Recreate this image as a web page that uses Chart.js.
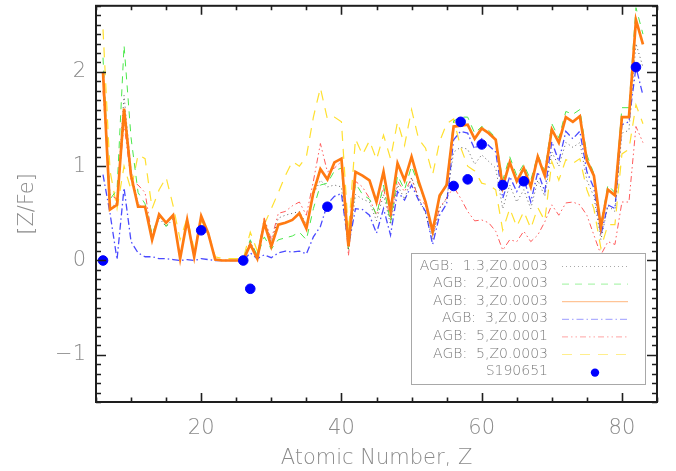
<!DOCTYPE html>
<html>
<head>
<meta charset="utf-8">
<script src="https://cdn.jsdelivr.net/npm/chart.js@4/dist/chart.umd.min.js"></script>
<style>
  html, body { margin: 0; padding: 0; background: #fff; }
  #wrap { width: 676px; height: 471px; }
</style>
</head>
<body>
<div id="wrap"><canvas id="abundChart" width="676" height="471"></canvas></div>
<script>
// atomic numbers of the model predictions (C .. Bi)
const atomicZ = [
  6, 7, 8, 9, 10,
  11, 12, 13, 14, 15, 16, 17, 18, 19, 20,
  21, 22, 23, 24, 25, 26, 27, 28, 29, 30,
  31, 32, 33, 34, 35, 36, 37, 38, 39, 40,
  41, 42, 43, 44, 45, 46, 47, 48, 49, 50,
  51, 52, 53, 54, 55, 56, 57, 58, 59, 60,
  61, 62, 63, 64, 65, 66, 67, 68, 69, 70,
  71, 72, 73, 74, 75, 76, 77, 78, 79, 80,
  81, 82, 83
];

// [Z/Fe] predictions, one array per AGB model
const agb13z0003 = [
  1.95, 0.55, 0.62, 1.75, 0.95,
  0.60, 0.55, 0.25, 0.45, 0.36, 0.44, 0.03, 0.40, 0.04, 0.44,
  0.27, 0.01, 0.00, 0.00, 0.00, 0.00, 0.20, 0.05, 0.42, 0.20,
  0.45, 0.48, 0.50, 0.52, 0.38, 0.70, 0.85, 0.78, 0.80, 0.78,
  0.12, 0.70, 0.65, 0.62, 0.42, 0.70, 0.38, 0.80, 0.65, 0.88,
  0.66, 0.50, 0.22, 0.55, 0.65, 1.15, 1.20, 1.18, 1.02, 1.12,
  1.05, 0.98, 0.55, 0.80, 0.62, 0.75, 0.55, 0.85, 0.68, 1.15,
  1.00, 1.25, 1.20, 1.25, 0.85, 0.68, 0.22, 0.58, 0.52, 1.35,
  1.38, 2.30, 2.05
];
const agb2z0003 = [
  2.15, 0.65, 0.75, 2.28, 1.30,
  0.72, 0.60, 0.28, 0.48, 0.36, 0.46, 0.03, 0.42, 0.05, 0.46,
  0.28, 0.01, 0.00, 0.00, 0.00, 0.00, 0.22, 0.05, 0.25, 0.12,
  0.22, 0.24, 0.26, 0.30, 0.22, 0.55, 0.80, 0.82, 0.95, 0.98,
  0.12, 0.82, 0.70, 0.65, 0.48, 0.80, 0.40, 0.90, 0.75, 1.00,
  0.80, 0.62, 0.28, 0.66, 0.82, 1.48, 1.52, 1.52, 1.35, 1.42,
  1.38, 1.30, 0.85, 1.10, 0.90, 1.02, 0.85, 1.12, 0.95, 1.45,
  1.30, 1.58, 1.55, 1.60, 1.12, 0.92, 0.38, 0.80, 0.72, 1.62,
  1.62, 2.68, 2.40
];
const agb3z0003 = [
  2.00, 0.54, 0.59, 1.61, 0.90,
  0.57, 0.57, 0.22, 0.49, 0.40, 0.48, 0.02, 0.43, 0.04, 0.47,
  0.29, 0.01, 0.00, 0.00, 0.00, 0.00, 0.17, 0.02, 0.40, 0.15,
  0.38, 0.40, 0.43, 0.50, 0.34, 0.72, 0.97, 0.86, 1.04, 1.08,
  0.15, 0.94, 0.90, 0.85, 0.62, 0.94, 0.52, 1.03, 0.85, 1.10,
  0.84, 0.62, 0.31, 0.69, 0.80, 1.42, 1.43, 1.44, 1.29, 1.40,
  1.35, 1.28, 0.78, 1.04, 0.84, 0.98, 0.78, 1.10, 0.90, 1.39,
  1.25, 1.52, 1.47, 1.53, 1.06, 0.90, 0.35, 0.75, 0.69, 1.52,
  1.52, 2.55, 2.29
];
const agb3z003 = [
  0.91, 0.50, 0.01, 0.77, 0.20,
  0.08, 0.04, 0.04, 0.02, 0.02, 0.01, 0.00, 0.01, 0.00, 0.02,
  0.01, 0.00, 0.00, 0.00, 0.00, 0.00, 0.08, 0.02, 0.06, 0.03,
  0.08, 0.10, 0.09, 0.10, 0.07, 0.25, 0.36, 0.60, 0.68, 0.71,
  0.15, 0.55, 0.54, 0.48, 0.29, 0.55, 0.27, 0.73, 0.64, 0.80,
  0.64, 0.52, 0.17, 0.48, 0.60, 1.28, 1.37, 1.35, 1.18, 1.29,
  1.22, 1.15, 0.66, 0.89, 0.73, 0.87, 0.62, 0.94, 0.73, 1.26,
  1.05, 1.37, 1.29, 1.37, 0.94, 0.77, 0.27, 0.59, 0.55, 1.44,
  1.47, 2.05, 1.75
];
const agb5z0001 = [
  1.80, 0.70, 0.65, 1.45, 0.85,
  0.80, 0.72, 0.25, 0.48, 0.40, 0.47, 0.03, 0.42, 0.05, 0.45,
  0.28, 0.01, 0.00, 0.00, 0.00, 0.00, 0.18, 0.04, 0.45, 0.22,
  0.50, 0.52, 0.58, 0.62, 0.48, 0.84, 1.24, 0.94, 0.98, 1.05,
  0.05, 0.84, 0.78, 0.66, 0.48, 0.77, 0.43, 0.84, 0.73, 0.87,
  0.66, 0.59, 0.27, 0.56, 0.66, 0.78, 0.66, 0.52, 0.42, 0.43,
  0.40, 0.31, 0.11, 0.22, 0.20, 0.31, 0.20, 0.27, 0.41, 0.59,
  0.48, 0.61, 0.62, 0.59, 0.48, 0.27, 0.06, 0.20, 0.17, 0.62,
  0.62, 1.42, 1.25
];
const agb5z0003 = [
  2.45, 0.95, 0.55, 1.00, 0.75,
  1.12, 1.08, 0.55, 0.75, 0.88, 0.58, 0.22, 0.45, 0.12, 0.42,
  0.30, 0.04, 0.02, 0.02, 0.02, 0.02, 0.30, 0.10, 0.38, 0.55,
  0.72, 0.90, 1.05, 1.00, 1.10, 1.52, 1.83, 1.50, 1.52, 1.47,
  0.30, 1.29, 1.12, 1.27, 1.07, 1.33, 1.08, 1.47, 1.22, 1.60,
  1.29, 1.19, 0.91, 1.26, 1.45, 1.50, 1.20, 1.00, 0.95, 0.82,
  0.80, 0.75, 0.32, 0.55, 0.36, 0.52, 0.34, 0.56, 0.42, 1.05,
  0.85, 1.07, 1.03, 1.08, 0.75, 0.55, 0.13, 0.38, 0.38, 1.13,
  1.18, 1.65, 1.45
];

// observed abundances of S190651
const starZ = [6, 20, 26, 27, 38, 56, 57, 58, 60, 63, 66, 82];
const starFe = [0.00, 0.32, 0.00, -0.30, 0.57, 0.79, 1.47, 0.86, 1.23, 0.80, 0.84, 2.05];

const xTickValues = [20, 40, 60, 80];
const yTickValues = [-1, 0, 1, 2];

const labelGray = '#8a8a8a';
const axisFont = { family: 'DejaVu Sans', size: 21, weight: 200 };

const toPoints = (zs, vals) => vals.map((v, i) => ({ x: zs[i], y: v }));

const models = [
  { label: 'AGB:  1.3,Z0.0003', data: agb13z0003, color: 'rgba(70,70,70,0.85)', dash: [1, 3], width: 1 },
  { label: 'AGB:  2,Z0.0003', data: agb2z0003, color: '#4be84b', dash: [7, 6], width: 1 },
  { label: 'AGB:  3,Z0.0003', data: agb3z0003, color: '#ff7a12', dash: [], width: 2.7 },
  { label: 'AGB:  3,Z0.003', data: agb3z003, color: '#4a4aff', dash: [7, 3, 1.5, 3], width: 1.3 },
  { label: 'AGB:  5,Z0.0001', data: agb5z0001, color: '#ff5a5a', dash: [6, 3, 1.5, 3, 1.5, 3], width: 1 },
  { label: 'AGB:  5,Z0.0003', data: agb5z0003, color: '#ffe030', dash: [10, 8], width: 1.2 }
];

const datasets = models.map((m, i) => ({
  label: m.label,
  data: toPoints(atomicZ, m.data),
  borderColor: m.color,
  borderDash: m.dash,
  borderWidth: m.width,
  pointRadius: 0,
  tension: 0,
  fill: false,
  order: m.width > 2 ? 1 : 2 + i
}));

datasets.push({
  label: 'S190651',
  data: toPoints(starZ, starFe),
  showLine: false,
  pointRadius: 4.8,
  pointBackgroundColor: '#0000ff',
  pointBorderColor: '#0000ff',
  order: 0
});

// legend box in the lower right corner of the plot
const boxLegend = {
  id: 'boxLegend',
  afterDatasetsDraw(chart) {
    const { ctx, chartArea: a } = chart;
    const left = a.right - 246, top = a.bottom - 149;
    const w = 234, h = 131;
    ctx.save();
    ctx.fillStyle = '#fff';
    ctx.fillRect(left, top, w, h);
    ctx.strokeStyle = '#a8a8a8';
    ctx.lineWidth = 1;
    ctx.strokeRect(left + 0.5, top + 0.5, w, h);

    ctx.font = '200 14px "DejaVu Sans"';
    ctx.textAlign = 'right';
    ctx.textBaseline = 'middle';
    const textRight = left + 137;
    const lineL = left + 151, lineR = left + 217;
    chart.data.datasets.forEach((ds, i) => {
      const rowY = top + 13 + i * 17.6;
      ctx.fillStyle = '#7a7a7a';
      ctx.fillText(ds.label, textRight, rowY);
      if (ds.showLine === false) {
        ctx.beginPath();
        ctx.fillStyle = ds.pointBackgroundColor;
        ctx.arc((lineL + lineR) / 2, rowY + 1, 4.2, 0, Math.PI * 2);
        ctx.fill();
      } else {
        ctx.globalAlpha = 0.55;
        ctx.strokeStyle = ds.borderColor;
        ctx.lineWidth = 1;
        ctx.setLineDash(ds.borderDash);
        ctx.beginPath();
        ctx.moveTo(lineL, rowY + 0.5);
        ctx.lineTo(lineR, rowY + 0.5);
        ctx.stroke();
        ctx.setLineDash([]);
        ctx.globalAlpha = 1;
      }
    });
    ctx.restore();
  }
};

// box frame with inward tick marks on all four sides
const frameTicks = {
  id: 'frameTicks',
  afterDraw(chart) {
    const { ctx, chartArea: a, scales: { x, y } } = chart;
    ctx.save();
    ctx.strokeStyle = '#1e1e1e';
    ctx.lineWidth = 1.6;
    ctx.beginPath();
    for (let v = 5; v <= 85; v += 5) {
      const px = Math.round(x.getPixelForValue(v)) + 0.5;
      const len = v % 20 === 0 ? 9 : 4.5;
      ctx.moveTo(px, a.bottom); ctx.lineTo(px, a.bottom - len);
      ctx.moveTo(px, a.top); ctx.lineTo(px, a.top + len);
    }
    for (let i = -15; i <= 27; i++) {
      const py = Math.round(y.getPixelForValue(i / 10)) + 0.5;
      const len = i % 10 === 0 ? 10 : 5;
      ctx.moveTo(a.left, py); ctx.lineTo(a.left + len, py);
      ctx.moveTo(a.right, py); ctx.lineTo(a.right - len, py);
    }
    ctx.stroke();
    ctx.lineWidth = 2;
    ctx.strokeRect(a.left, a.top, a.width, a.height);
    ctx.restore();
  }
};

new Chart(document.getElementById('abundChart'), {
  type: 'line',
  data: { datasets },
  options: {
    responsive: false,
    animation: false,
    layout: { padding: { top: 5, right: 19, left: 0, bottom: 0 } },
    plugins: {
      legend: { display: false },
      tooltip: { enabled: false }
    },
    scales: {
      x: {
        type: 'linear',
        min: 5,
        max: 85,
        afterBuildTicks: s => { s.ticks = xTickValues.map(v => ({ value: v })); },
        afterFit: s => { s.height = 69; s.paddingLeft = 0; s.paddingRight = 0; },
        grid: { display: false, drawTicks: false },
        border: { display: false },
        ticks: { color: labelGray, font: axisFont, padding: 14, maxRotation: 0 },
        title: {
          display: true,
          text: 'Atomic Number, Z',
          color: labelGray,
          font: axisFont,
          padding: { top: 0, bottom: 0 }
        }
      },
      y: {
        type: 'linear',
        min: -1.5,
        max: 2.7,
        afterBuildTicks: s => { s.ticks = yTickValues.map(v => ({ value: v })); },
        afterFit: s => { s.width = 96; s.paddingTop = 0; s.paddingBottom = 0; },
        grid: { display: false, drawTicks: false },
        border: { display: false },
        ticks: {
          color: labelGray,
          font: axisFont,
          padding: 10,
          callback: v => (v < 0 ? '\u2212' + Math.abs(v) : String(v))
        },
        title: {
          display: true,
          text: '[Z/Fe]',
          color: labelGray,
          font: axisFont,
          padding: { top: 15, bottom: 0 }
        }
      }
    }
  },
  plugins: [boxLegend, frameTicks]
});
</script>
</body>
</html>
